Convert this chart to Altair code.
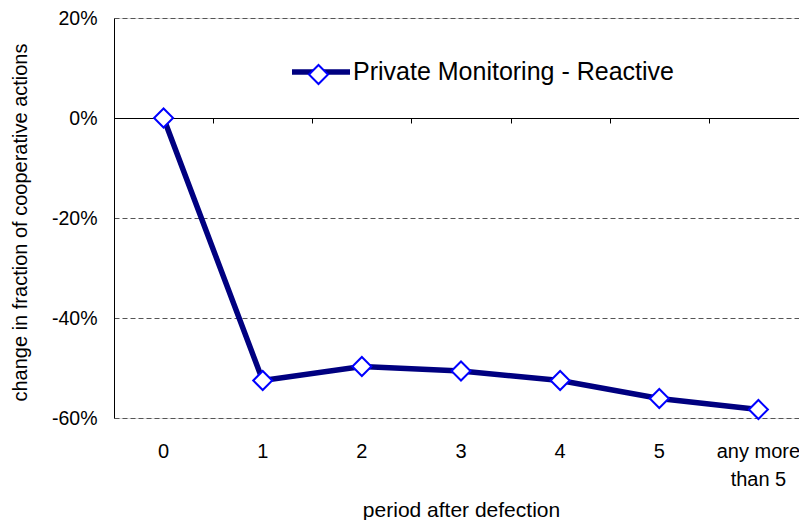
import altair as alt
import pandas as pd

periods = ["0", "1", "2", "3", "4", "5", "any more than 5"]
values = [0.0, -0.525, -0.497, -0.506, -0.525, -0.561, -0.583]
series_name = "Private Monitoring - Reactive"
y_ticks = [0.2, 0.0, -0.2, -0.4, -0.6]

df = pd.DataFrame({
    "period": periods,
    "value": values,
    "series": [series_name] * len(periods),
    "series2": [series_name] * len(periods),
})

FONT = "Liberation Sans"

x_scale = alt.Scale(type="band", paddingInner=0, paddingOuter=0, domain=periods, range=[0, 694])
y_scale = alt.Scale(domain=[-0.6, 0.2], nice=False, zero=False)

y_axis = alt.Axis(
    values=y_ticks,
    labelExpr="(datum.value < 0 ? '-' : '') + format(abs(datum.value), '.0%')",
    grid=True, gridColor="#555555", gridDash=[5, 3], gridWidth=1,
    domain=True, domainColor="black", domainWidth=1,
    ticks=False, tickSize=0, labelPadding=17,
    labelFont=FONT, labelFontSize=19.5, labelColor="black",
    title="change in fraction of cooperative actions",
    titleFont=FONT, titleFontSize=20, titleFontWeight="normal", titleColor="black",
    titleX=-94, titleY=204, titleBaseline="middle", titleAngle=270, titleAlign="center",
)

line = alt.Chart(df).mark_line(strokeWidth=5.5).encode(
    x=alt.X("period:O", scale=x_scale, sort=periods,
            axis=alt.Axis(orient="bottom", offset=-300, domain=True, domainColor="black",
                          domainWidth=1, ticks=True, tickColor="black", tickSize=5,
                          tickWidth=1, tickBand="extent", labels=False, title=None, grid=False)),
    y=alt.Y("value:Q", scale=y_scale, axis=y_axis),
    color=alt.Color("series:N", scale=alt.Scale(range=["#000080"]),
                    legend=alt.Legend(orient="none", legendX=175, legendY=22, title=None,
                                      symbolType="stroke", symbolSize=3364, symbolStrokeWidth=5.5,
                                      labelFont=FONT, labelFontSize=25, labelColor="black",
                                      labelOffset=0, labelLimit=0, padding=0, zindex=1)),
)

points = alt.Chart(df).mark_point(shape="diamond", filled=False, fill="white", fillOpacity=1,
                                  strokeWidth=2, size=360, opacity=1).encode(
    x=alt.X("period:O", scale=x_scale, sort=periods,
            axis=alt.Axis(orient="bottom", domain=False, ticks=False, tickSize=0, grid=False,
                          labelPadding=23, labelBaseline="top", labelAngle=0,
                          labelFont=FONT, labelFontSize=20, labelColor="black",
                          labelLineHeight=28,
                          labelExpr="datum.label == 'any more than 5' ? ['any more', 'than 5'] : datum.label",
                          title="period after defection", titleFont=FONT, titleFontSize=21,
                          titleFontWeight="normal", titleColor="black",
                          titleY=92, titleBaseline="middle")),
    y=alt.Y("value:Q", scale=y_scale, axis=y_axis),
    color=alt.Color("series2:N", scale=alt.Scale(range=["#0000ff"]),
                    legend=alt.Legend(orient="none", legendX=194, legendY=46, title=None,
                                      symbolType="diamond", symbolSize=360,
                                      symbolFillColor="#ffffff", symbolStrokeWidth=2,
                                      symbolOpacity=1,
                                      labelExpr="''", labelFontSize=1, padding=0, zindex=2)),
)

chart = alt.layer(line, points).resolve_axis(x="independent").resolve_scale(
    color="independent"
).properties(
    width=685, height=400,
    autosize=alt.AutoSizeParams(type="none"),
    padding={"left": 106, "top": 10, "right": 0, "bottom": 102},
).configure_view(strokeWidth=0).configure(background="white")

chart.save("out.html", embed_options={"renderer": "svg", "actions": False})
